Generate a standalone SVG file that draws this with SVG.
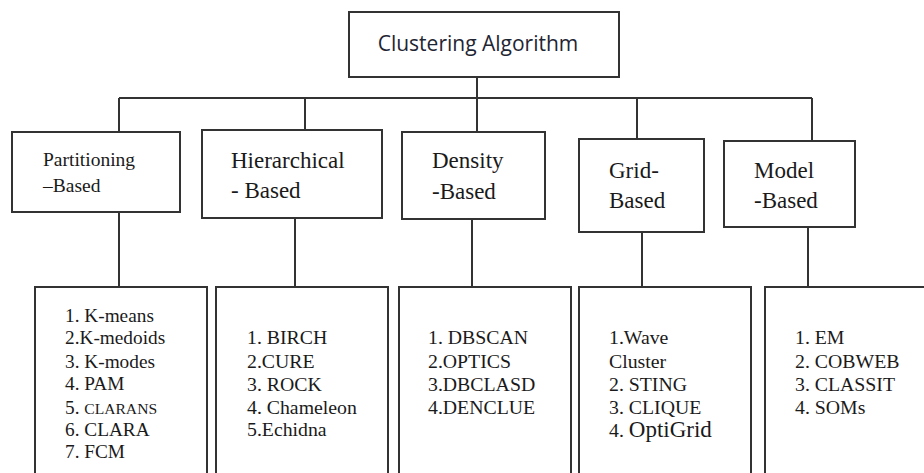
<svg xmlns="http://www.w3.org/2000/svg" width="924" height="473" viewBox="0 0 924 473">
<style>
.box{fill:#fff;stroke:#333;stroke-width:2}
.ln{fill:none;stroke:#333;stroke-width:2}
.t{font-family:'Liberation Serif','DejaVu Serif',serif;fill:#1a1a1a}
.h{font-size:23px}
.l{font-size:19.8px}
.s{font-family:'Open Sans','Liberation Sans',sans-serif;fill:#1e2533}
</style>
<rect width="924" height="473" fill="#fff"/>
<g id="connectors">
<path class="ln" d="M477 77V143M119 98H812M119 98V132M305 98V130M637 98V139M812 98V141"/>
<path class="ln" d="M119 212V287M295 218V287M472 219V287M642 232V287M808 227V287"/>
</g>
<g id="root">
<rect class="box" x="349" y="12" width="270" height="65"/>
<text class="s" x="478" y="51" font-size="21" text-anchor="middle">Clustering Algorithm</text>
</g>
<g id="partitioning">
<rect class="box" x="12" y="132" width="168" height="80"/>
<text class="t" x="43" y="166" font-size="19.5">Partitioning</text>
<text class="t" x="43" y="192" font-size="19.5">–Based</text>
</g>
<g id="hierarchical">
<rect class="box" x="202" y="130" width="180" height="88"/>
<text class="t h" x="231" y="168">Hierarchical</text>
<text class="t h" x="231" y="198">- Based</text>
</g>
<g id="density">
<rect class="box" x="402" y="132" width="143" height="87"/>
<text class="t h" x="432" y="168">Density</text>
<text class="t h" x="432" y="199">-Based</text>
</g>
<g id="grid">
<rect class="box" x="579" y="139" width="125" height="93"/>
<text class="t h" x="609" y="178">Grid-</text>
<text class="t h" x="609" y="208">Based</text>
</g>
<g id="model">
<rect class="box" x="724" y="141" width="131" height="86"/>
<text class="t h" x="754" y="178">Model</text>
<text class="t h" x="754" y="208">-Based</text>
</g>
<g id="list-partitioning">
<path class="ln" d="M35 474V287H207V474"/>
<text class="t" font-size="19.3"><tspan x="65" y="322">1. K-means</tspan><tspan x="65" y="344">2.K-medoids</tspan><tspan x="65" y="368">3. K-modes</tspan><tspan x="65" y="390">4. PAM</tspan><tspan x="65" y="414">5. <tspan font-size="15.6">CLARANS</tspan></tspan><tspan x="65" y="436">6. CLARA</tspan><tspan x="65" y="458">7. FCM</tspan></text>
</g>
<g id="list-hierarchical">
<path class="ln" d="M216 474V287H388V474"/>
<text class="t l"><tspan x="247" y="344">1. BIRCH</tspan><tspan x="247" y="368">2.CURE</tspan><tspan x="247" y="391">3. ROCK</tspan><tspan x="247" y="414">4. Chameleon</tspan><tspan x="247" y="436">5.Echidna</tspan></text>
</g>
<g id="list-density">
<path class="ln" d="M399 474V287H571V474"/>
<text class="t l"><tspan x="428" y="344">1. DBSCAN</tspan><tspan x="428" y="368">2.OPTICS</tspan><tspan x="428" y="391">3.DBCLASD</tspan><tspan x="428" y="414">4.DENCLUE</tspan></text>
</g>
<g id="list-grid">
<path class="ln" d="M579 474V287H751V474"/>
<text class="t l"><tspan x="609" y="344">1.Wave</tspan><tspan x="609" y="368">Cluster</tspan><tspan x="609" y="391">2. STING</tspan><tspan x="609" y="414">3. CLIQUE</tspan><tspan x="609" y="437">4. <tspan font-size="23">OptiGrid</tspan></tspan></text>
</g>
<g id="list-model">
<path class="ln" d="M765 474V287H925"/>
<text class="t l"><tspan x="795" y="344">1. EM</tspan><tspan x="795" y="368">2. COBWEB</tspan><tspan x="795" y="391">3. CLASSIT</tspan><tspan x="795" y="414">4. SOMs</tspan></text>
</g>
</svg>
